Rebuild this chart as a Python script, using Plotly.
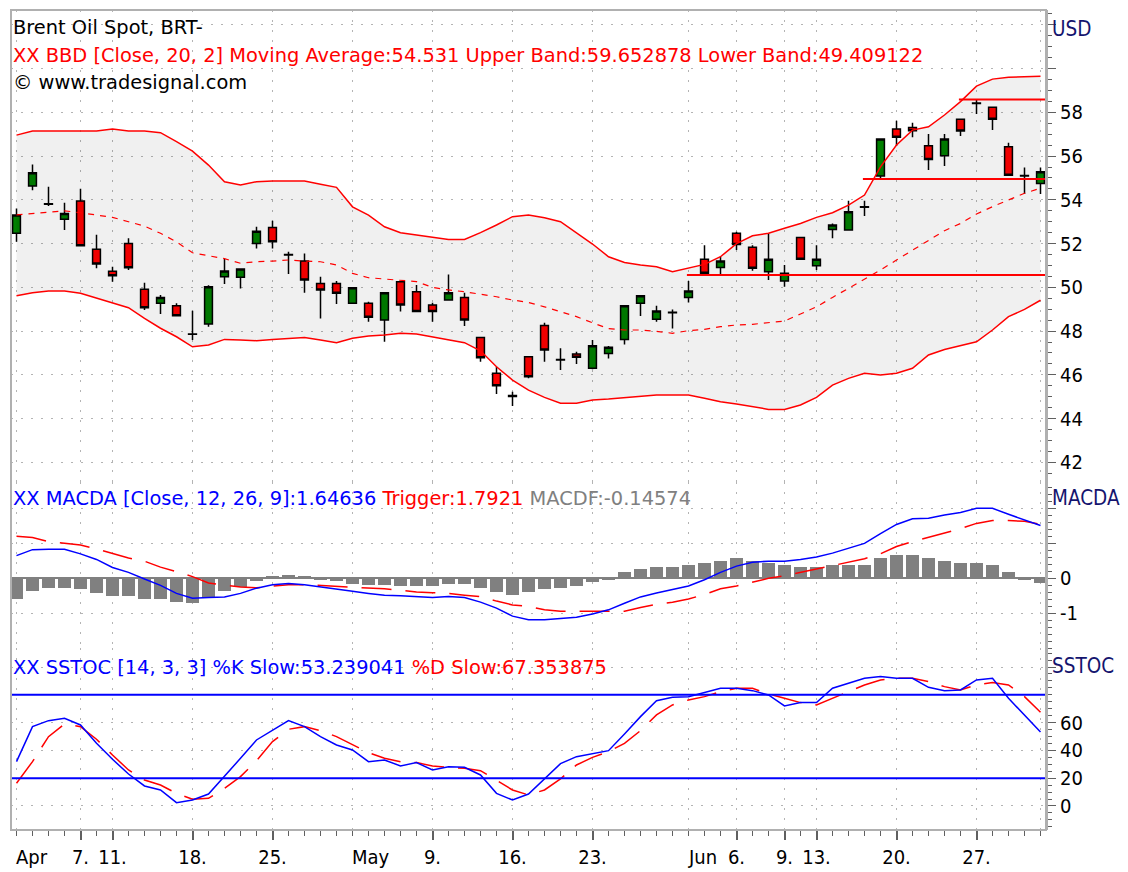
import plotly.graph_objects as go
from plotly.subplots import make_subplots

# ---------------- data ----------------
dates = ['2005-04-01', '2005-04-04', '2005-04-05', '2005-04-06', '2005-04-07', '2005-04-08',
         '2005-04-11', '2005-04-12', '2005-04-13', '2005-04-14', '2005-04-15',
         '2005-04-18', '2005-04-19', '2005-04-20', '2005-04-21', '2005-04-22',
         '2005-04-25', '2005-04-26', '2005-04-27', '2005-04-28', '2005-04-29',
         '2005-05-02', '2005-05-03', '2005-05-04', '2005-05-05', '2005-05-06',
         '2005-05-09', '2005-05-10', '2005-05-11', '2005-05-12', '2005-05-13',
         '2005-05-16', '2005-05-17', '2005-05-18', '2005-05-19', '2005-05-20',
         '2005-05-23', '2005-05-24', '2005-05-25', '2005-05-26', '2005-05-27',
         '2005-05-31', '2005-06-01', '2005-06-02', '2005-06-03',
         '2005-06-06', '2005-06-07', '2005-06-08', '2005-06-09', '2005-06-10',
         '2005-06-13', '2005-06-14', '2005-06-15', '2005-06-16', '2005-06-17',
         '2005-06-20', '2005-06-21', '2005-06-22', '2005-06-23', '2005-06-24',
         '2005-06-27', '2005-06-28', '2005-06-29', '2005-06-30', '2005-07-01']

open_ = [52.47, 54.63, 53.82, 53.11, 53.95, 51.74, 50.73, 52.01, 49.91, 49.27, 49.16,
         47.87, 48.32, 50.48, 50.46, 52.01, 52.74, 51.50, 51.20, 50.18, 50.18,
         49.27, 49.27, 48.51, 50.26, 49.80, 49.19, 49.42, 49.54, 47.71, 46.07,
         45.05, 46.83, 48.25, 46.70, 46.95, 46.30, 46.98, 47.62, 49.27, 48.54,
         48.86, 49.54, 51.28, 50.91, 52.47, 51.83, 50.71, 50.29, 52.28, 50.99,
         52.65, 52.62, 53.68, 55.09, 57.24, 57.31, 56.47, 56.02, 57.69, 58.43,
         58.23, 56.43, 55.11, 54.75]
high = [53.61, 55.62, 54.60, 53.87, 54.51, 52.40, 50.94, 52.24, 50.21, 49.65, 49.27,
        48.93, 50.10, 51.29, 50.84, 52.77, 53.04, 51.63, 51.55, 50.48, 50.29,
        50.00, 49.34, 49.78, 50.28, 50.11, 49.30, 50.59, 49.75, 47.73, 46.37,
        45.23, 46.85, 48.38, 47.21, 47.06, 47.59, 47.32, 49.18, 49.64, 49.16,
        48.99, 50.29, 51.93, 51.40, 52.54, 51.93, 52.47, 51.02, 52.30, 51.93,
        52.92, 53.96, 53.96, 56.80, 57.62, 57.53, 57.01, 57.01, 57.71, 58.59,
        58.25, 56.61, 55.48, 55.48]
low = [52.09, 54.44, 53.72, 52.62, 51.88, 50.87, 50.26, 50.79, 48.96, 48.78, 48.69,
       47.59, 48.20, 50.15, 49.95, 51.78, 51.78, 50.61, 49.75, 48.58, 49.24,
       49.25, 48.43, 47.51, 48.89, 48.87, 48.43, 49.40, 48.23, 46.60, 45.12,
       44.57, 45.84, 46.60, 46.22, 46.49, 46.25, 46.75, 47.39, 48.69, 48.43,
       48.12, 49.31, 50.62, 50.61, 51.71, 50.76, 50.33, 50.03, 51.26, 50.79,
       52.24, 52.60, 53.26, 54.98, 56.46, 56.86, 55.36, 55.55, 56.92, 57.92,
       57.19, 55.11, 54.27, 54.27]
close = [53.31, 55.24, 53.80, 53.38, 51.90, 51.07, 50.53, 50.90, 49.07, 49.54, 48.70,
         47.85, 50.03, 50.75, 50.84, 52.57, 52.09, 51.48, 50.33, 49.88, 49.73,
         49.98, 48.63, 49.75, 49.19, 48.89, 48.89, 49.75, 48.51, 46.78, 45.50,
         45.01, 45.91, 47.13, 46.68, 46.80, 47.33, 47.26, 49.16, 49.62, 48.92,
         48.84, 49.83, 50.64, 51.20, 51.96, 50.87, 51.28, 50.64, 51.28, 51.28,
         52.85, 53.46, 53.66, 56.78, 56.86, 57.16, 55.85, 56.78, 57.15, 58.41,
         57.68, 55.13, 55.09, 55.29]

bb_upper = [56.96, 57.15, 57.15, 57.15, 57.15, 57.15, 57.24, 57.15, 57.15, 57.07, 56.66,
            56.23, 55.59, 54.83, 54.68, 54.83, 54.86, 54.86, 54.86, 54.71, 54.57,
            53.68, 53.30, 52.77, 52.50, 52.39, 52.29, 52.19, 52.19, 52.50, 52.85,
            53.23, 53.31, 53.18, 53.00, 52.47, 51.98, 51.40, 51.14, 51.02, 50.94,
            50.71, 50.87, 51.05, 51.40, 52.00, 52.36, 52.47, 52.70, 52.92, 53.20,
            53.41, 53.76, 54.22, 55.51, 56.51, 57.19, 57.34, 57.88, 58.49, 59.20,
            59.52, 59.60, 59.63, 59.65]
bb_mid = [53.31, 53.38, 53.43, 53.50, 53.41, 53.31, 53.20, 53.00, 52.80, 52.47, 52.08,
          51.58, 51.43, 51.31, 51.10, 51.17, 51.20, 51.25, 51.20, 51.17, 51.02,
          50.64, 50.44, 50.37, 50.33, 50.26, 50.00, 49.88, 49.80, 49.69, 49.57,
          49.42, 49.31, 49.11, 48.88, 48.66, 48.38, 48.11, 48.05, 48.05, 47.99,
          47.90, 48.02, 48.08, 48.20, 48.28, 48.31, 48.40, 48.46, 48.78, 49.11,
          49.54, 49.95, 50.36, 50.79, 51.25, 51.71, 52.16, 52.59, 52.92, 53.35,
          53.69, 53.99, 54.30, 54.53]
bb_lower = [49.62, 49.75, 49.83, 49.83, 49.73, 49.50, 49.30, 49.07, 48.58, 48.13, 47.74,
            47.28, 47.36, 47.62, 47.59, 47.56, 47.62, 47.68, 47.71, 47.59, 47.47,
            47.67, 47.77, 47.82, 47.90, 47.87, 47.74, 47.62, 47.47, 47.10, 46.37,
            45.76, 45.30, 44.97, 44.70, 44.70, 44.85, 44.89, 44.95, 45.03, 45.08,
            45.08, 45.08, 44.93, 44.77, 44.67, 44.54, 44.42, 44.42, 44.62, 44.97,
            45.53, 45.84, 46.07, 45.99, 46.07, 46.30, 46.91, 47.16, 47.32, 47.51,
            48.05, 48.66, 48.99, 49.41]

macd = [0.64, 0.81, 0.82, 0.82, 0.69, 0.53, 0.30, 0.16, -0.03, -0.21, -0.44,
        -0.58, -0.56, -0.54, -0.44, -0.29, -0.19, -0.16, -0.19, -0.26, -0.31,
        -0.38, -0.44, -0.49, -0.51, -0.54, -0.56, -0.53, -0.56, -0.69, -0.86,
        -1.09, -1.19, -1.19, -1.15, -1.12, -1.03, -0.91, -0.72, -0.54, -0.43,
        -0.33, -0.23, -0.05, 0.16, 0.34, 0.45, 0.48, 0.48, 0.53, 0.60,
        0.71, 0.85, 0.99, 1.27, 1.53, 1.69, 1.71, 1.80, 1.87, 1.99,
        1.99, 1.82, 1.66, 1.50]
trigger = [1.19, 1.16, 1.04, 0.99, 0.94, 0.83, 0.69, 0.57, 0.48, 0.31, 0.18,
           0.04, -0.14, -0.21, -0.26, -0.28, -0.23, -0.19, -0.19, -0.21, -0.23,
           -0.26, -0.29, -0.31, -0.35, -0.40, -0.42, -0.44, -0.49, -0.53, -0.66,
           -0.77, -0.81, -0.91, -0.95, -0.95, -0.97, -0.97, -0.95, -0.84, -0.75,
           -0.69, -0.60, -0.47, -0.31, -0.23, -0.12, -0.01, 0.06, 0.16, 0.25,
           0.37, 0.45, 0.55, 0.69, 0.90, 1.04, 1.16, 1.27, 1.41, 1.56,
           1.64, 1.64, 1.62, 1.53]
macdf = [-0.60, -0.38, -0.28, -0.28, -0.32, -0.44, -0.51, -0.51, -0.60, -0.60, -0.68,
         -0.72, -0.56, -0.38, -0.26, -0.09, 0.06, 0.10, 0.05, -0.05, -0.09,
         -0.17, -0.21, -0.19, -0.23, -0.23, -0.23, -0.17, -0.17, -0.29, -0.40,
         -0.49, -0.40, -0.31, -0.29, -0.23, -0.10, -0.03, 0.16, 0.27, 0.32,
         0.32, 0.38, 0.44, 0.50, 0.56, 0.50, 0.44, 0.38, 0.32, 0.32,
         0.38, 0.38, 0.38, 0.56, 0.67, 0.67, 0.56, 0.50, 0.44, 0.44,
         0.38, 0.16, -0.07, -0.15]

k_slow = [31.9, 57.1, 61.4, 63.1, 58.3, 45.1, 33.6, 23.0, 14.4, 11.5, 2.4,
          4.3, 8.6, 21.1, 34.3, 47.5, 54.2, 61.4, 57.1, 49.9, 43.9,
          40.3, 31.9, 33.1, 28.8, 31.2, 25.9, 28.3, 27.8, 22.3, 9.1,
          4.3, 8.6, 19.9, 30.5, 35.5, 37.4, 39.8, 51.8, 64.3, 75.8,
          78.2, 78.7, 81.6, 84.7, 84.7, 83.0, 79.9, 72.0, 74.4, 74.4,
          84.7, 88.3, 91.9, 93.1, 91.9, 91.9, 85.4, 83.0, 83.5, 90.7,
          91.9, 77.5, 65.5, 53.2]
d_slow = [16.3, 31.9, 49.9, 59.0, 57.1, 48.0, 36.7, 25.9, 18.7, 15.1, 9.1,
          4.8, 5.5, 12.7, 21.1, 32.6, 46.3, 55.2, 57.1, 54.2, 49.9,
          43.9, 38.4, 34.3, 31.9, 31.2, 28.8, 27.8, 27.1, 25.4, 18.7,
          11.5, 7.9, 11.5, 19.5, 29.5, 35.0, 39.1, 45.1, 54.2, 65.5,
          72.7, 76.3, 78.7, 82.3, 84.7, 84.7, 80.6, 77.5, 74.4, 72.7,
          77.5, 82.3, 87.1, 90.7, 91.9, 91.9, 89.5, 85.9, 83.5, 87.1,
          88.8, 87.1, 78.7, 67.4]

level_values = [50.56, 54.95, 58.59]
level_starts = ['2005-06-01', '2005-06-16', '2005-06-24']
stoch_levels = [80, 20]

tick_dates = ['2005-04-01', '2005-04-07', '2005-04-11', '2005-04-18', '2005-04-25',
              '2005-05-02', '2005-05-09', '2005-05-16', '2005-05-23', '2005-06-01',
              '2005-06-06', '2005-06-09', '2005-06-13', '2005-06-20', '2005-06-27',
              '2005-07-01']
tick_text = ['Apr', '7.', '11.', '18.', '25.', 'May', '9.', '16.', '23.', 'Jun',
             '6.', '9.', '13.', '20.', '27.', '']
month_labels = ['Apr', 'May', 'Jun']

price_ticks = [42, 44, 46, 48, 50, 52, 54, 56, 58, 60, 62]
price_labels = ['42', '44', '46', '48', '50', '52', '54', '56', '58', '', '']
macd_ticks = [-1, 0, 1, 2]
macd_labels = ['-1', '0', '', '']
stoch_ticks = [0, 20, 40, 60, 100]
stoch_labels = ['0', '20', '40', '60', '']

# ---------------- figure ----------------
FONT = "DejaVu Sans Condensed, DejaVu Sans, sans-serif"
TFONT = "DejaVu Sans, sans-serif"
OFF = 8                      # page body margin of the html page
W, H = 1120, 864
L, R, T, B = 3, 82, 2, 42
PW, PH = W - L - R, H - T - B

x = list(range(len(dates)))
xt = [dates.index(d) for d in tick_dates]
# month names are written left-aligned at their tick (as annotations below)
xt_text = ['' if t in month_labels else t for t in tick_text]
x_range = [-0.344, len(dates) - 1 + 0.344]

fig = make_subplots(rows=3, cols=1, shared_xaxes=True, vertical_spacing=0,
                    row_heights=[472, 166, 182])

RED = '#FF0000'
BLUE = '#0000FF'

# Bollinger bands
fig.add_trace(go.Scatter(x=x, y=bb_lower, mode='lines', line=dict(color=RED, width=1.5),
                         hoverinfo='skip'), row=1, col=1)
fig.add_trace(go.Scatter(x=x, y=bb_upper, mode='lines', line=dict(color=RED, width=1.5),
                         fill='tonexty', fillcolor='rgba(0,0,0,0.06)', hoverinfo='skip'),
              row=1, col=1)
fig.add_trace(go.Scatter(x=x, y=bb_mid, mode='lines',
                         line=dict(color=RED, width=1.2, dash='6px,6px'), hoverinfo='skip'),
              row=1, col=1)
# candles
fig.add_trace(go.Candlestick(
    x=x, open=open_, high=high, low=low, close=close, whiskerwidth=0,
    increasing=dict(fillcolor='#008000', line=dict(color='black', width=1.5)),
    decreasing=dict(fillcolor='#FF0000', line=dict(color='black', width=1.5))),
    row=1, col=1)

# MACD
fig.add_trace(go.Bar(x=x, y=macdf, marker=dict(color='#808080', line=dict(width=0)),
                     width=0.86), row=2, col=1)
fig.add_trace(go.Scatter(x=x, y=trigger, mode='lines',
                         line=dict(color=RED, width=1.5, dash='30px,14px')), row=2, col=1)
fig.add_trace(go.Scatter(x=x, y=macd, mode='lines', line=dict(color=BLUE, width=1.5)),
              row=2, col=1)

# Slow stochastic
fig.add_trace(go.Scatter(x=x, y=d_slow, mode='lines',
                         line=dict(color=RED, width=1.5, dash='30px,14px')), row=3, col=1)
fig.add_trace(go.Scatter(x=x, y=k_slow, mode='lines', line=dict(color=BLUE, width=1.5)),
              row=3, col=1)

# drawn horizontal levels on price panel
for lv, st in zip(level_values, level_starts):
    fig.add_shape(type='line', xref='x', yref='y', x0=dates.index(st) - 0.1, x1=x_range[1],
                  y0=lv, y1=lv, line=dict(color=RED, width=2))
for lv in stoch_levels:
    fig.add_shape(type='line', xref='paper', yref='y3', x0=0, x1=1, y0=lv, y1=lv,
                  line=dict(color=BLUE, width=2))
# frame
fig.add_shape(type='rect', xref='paper', yref='paper', x0=0, x1=1, y0=0, y1=1,
              line=dict(color='#B0B0B0', width=2), layer='above')

GRID = dict(showgrid=True, gridcolor='#B4B4B4', griddash='2px,8px', gridwidth=1)

for i in (1, 2, 3):
    key = 'xaxis' if i == 1 else f'xaxis{i}'
    fig.layout[key].update(range=x_range, tickmode='array', tickvals=xt, zeroline=False,
                           showline=False, automargin=False, **GRID)
fig.layout.xaxis.rangeslider.visible = False
fig.layout.xaxis3.update(ticktext=xt_text, showticklabels=True, ticks='outside', ticklen=9,
                         tickwidth=1.5, tickcolor='#606060',
                         tickfont=dict(family=FONT, size=20, color='black'),
                         minor=dict(tickmode='array', tickvals=x, ticks='outside', ticklen=5,
                                    tickwidth=1.2, tickcolor='#606060', showgrid=False))

YCOMMON = dict(side='right', showline=True, linecolor='#B0B0B0', linewidth=2,
               ticks='outside', ticklen=8, tickwidth=1.2, tickcolor='#606060',
               tickfont=dict(family=FONT, size=20, color='black'), zeroline=False,
               tickmode='array', automargin=False, **GRID)
fig.layout.yaxis.update(domain=[348 / PH, 1], range=[41.10, 62.68],
                        tickvals=price_ticks, ticktext=price_labels,
                        minor=dict(tickmode='linear', tick0=0, dtick=0.5, ticks='outside',
                                   ticklen=4, tickcolor='#606060', showgrid=False), **YCOMMON)
fig.layout.yaxis2.update(domain=[182 / PH, 348 / PH], range=[-2.0, 2.743],
                         tickvals=macd_ticks, ticktext=macd_labels,
                         minor=dict(tickmode='linear', tick0=0, dtick=0.2, ticks='outside',
                                    ticklen=4, tickcolor='#606060', showgrid=False), **YCOMMON)
fig.layout.yaxis2.update(zeroline=True, zerolinecolor='#808080', zerolinewidth=2)
fig.layout.yaxis3.update(domain=[0, 182 / PH], range=[-17.3, 113.7],
                         tickvals=stoch_ticks, ticktext=stoch_labels,
                         minor=dict(tickmode='linear', tick0=0, dtick=5, ticks='outside',
                                    ticklen=4, tickcolor='#606060', showgrid=False), **YCOMMON)


def px_x(v):
    return (v - OFF - L) / PW


def px_y(v):
    return (H - B - (v - OFF)) / PH


def note(text, xp, yp, size=19.4, color='black', family=TFONT):
    fig.add_annotation(text=text, x=px_x(xp), y=px_y(yp), xref='paper', yref='paper',
                       xanchor='left', yanchor='middle', showarrow=False,
                       font=dict(family=family, size=size, color=color))


note('Brent Oil Spot, BRT-', 11, 27)
note('XX BBD [Close, 20, 2] Moving Average:54.531 Upper Band:59.652878 Lower Band:49.409122',
     11, 55, color=RED)
note('© www.tradesignal.com', 11, 83)
note("XX MACDA [Close, 12, 26, 9]:1.64636 <span style='color:#FF0000'>Trigger:1.7921</span>"
     " <span style='color:#808080'>MACDF:-0.14574</span>", 11, 498, color=BLUE)
note("XX SSTOC [14, 3, 3] %K Slow:53.239041 <span style='color:#FF0000'>%D Slow:67.353875</span>",
     11, 667, color=BLUE)
NAVY = '#14146E'
note('USD', 1050, 29, size=20.5, color=NAVY, family=FONT)
note('MACDA', 1050, 498, size=20.5, color=NAVY, family=FONT)
note('SSTOC', 1050, 666, size=20.5, color=NAVY, family=FONT)

# month names of the date axis, left-aligned on their ticks
for pos, t in zip(xt, tick_text):
    if t in month_labels:
        fig.add_annotation(text=t, x=pos, xref='x3', y=px_y(857), yref='paper',
                           xanchor='left', yanchor='middle', showarrow=False, xshift=-3,
                           font=dict(family=FONT, size=20, color='black'))

fig.update_layout(width=W, height=H, margin=dict(l=L, r=R, t=T, b=B, autoexpand=False),
                  paper_bgcolor='white', plot_bgcolor='white', showlegend=False,
                  bargap=0, font=dict(family=FONT))

fig.write_html('out.html')
